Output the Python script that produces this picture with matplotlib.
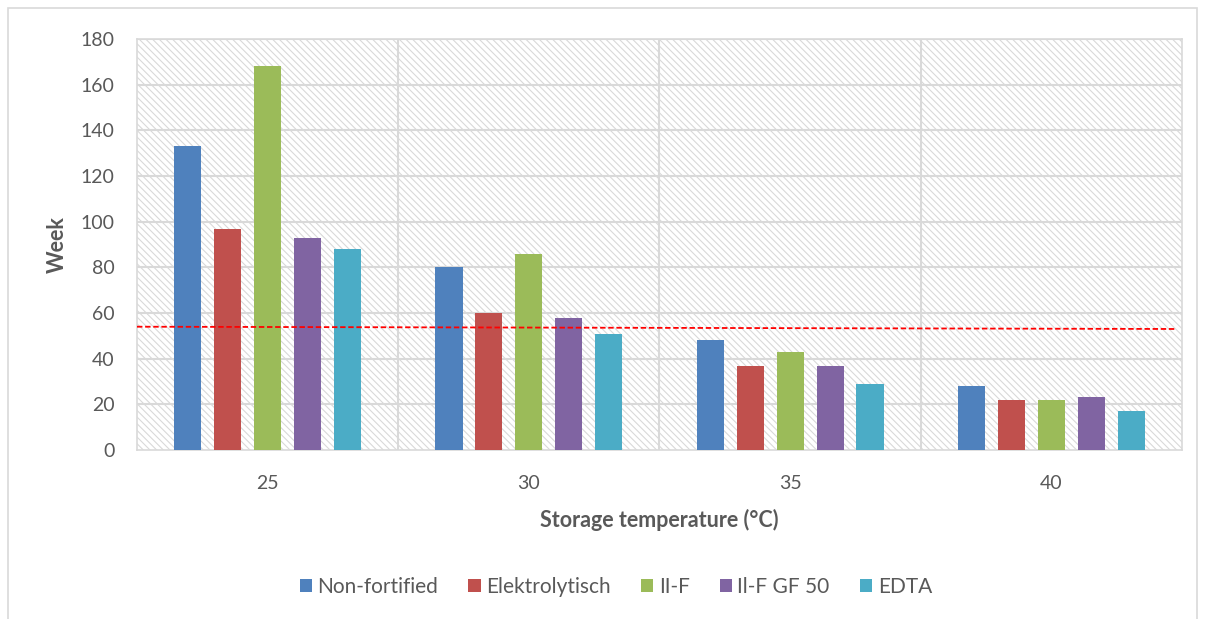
import numpy as np
import matplotlib.pyplot as plt
from matplotlib.patches import Rectangle, Patch

plt.rcParams['font.family'] = ['Lato', 'DejaVu Sans']
plt.rcParams['hatch.color'] = '#D9D9D9'
plt.rcParams['hatch.linewidth'] = 0.8

categories = ["25", "30", "35", "40"]
series = ["Non-fortified", "Elektrolytisch", "II-F", "Il-F GF 50", "EDTA"]
values = [
    [133, 80, 48, 28],
    [97, 60, 37, 22],
    [168, 86, 43, 22],
    [93, 58, 37, 23],
    [88, 51, 29, 17],
]
colors = ["#4F81BD", "#C0504D", "#9BBB59", "#8064A2", "#4BACC6"]
ref_line = [54, 53]

fig = plt.figure(figsize=(12.05, 6.19), dpi=100)
ax = fig.add_axes([0.1137, 0.273, 0.8672, 0.664])

# hatched plot background
ax.add_patch(Rectangle((0, 0), 1, 1, transform=ax.transAxes, facecolor='white',
                       hatch='\\\\\\\\\\', edgecolor='#D9D9D9', linewidth=0, zorder=0))

x = np.arange(len(categories))
step = 0.153
width = 0.104
for i, (s, v, c) in enumerate(zip(series, values, colors)):
    ax.bar(x + (i - 2) * step, v, width, color=c, label=s, zorder=3)

ax.set_xlim(-0.5, len(categories) - 0.5)
ax.set_ylim(0, 180)
ax.set_yticks(range(0, 181, 20))
ax.set_xticks(x)
ax.set_xticklabels(categories)

for yv in range(20, 181, 20):
    ax.axhline(yv, color='#D9D9D9', lw=1.5, zorder=1)
for xv in x[:-1] + 0.5:
    ax.axvline(xv, color='#D9D9D9', lw=1.5, zorder=1)

ax.plot([-0.5, 3.48], ref_line, color='#FF0000', lw=1.3, ls=(0, (3, 1.5)), zorder=4)

for sp in ax.spines.values():
    sp.set_color('#D9D9D9')
    sp.set_linewidth(1.2)
ax.tick_params(length=0, labelsize=14, colors='#595959')
ax.tick_params(axis='y', pad=16)
ax.tick_params(axis='x', pad=18)

ax.set_ylabel("Week", fontsize=15.5, fontweight='bold', color='#595959', labelpad=9)
ax.set_xlabel("Storage temperature (°C)", fontsize=15.5, fontweight='bold', color='#595959', labelpad=12)

handles = [Patch(facecolor=c, label=s) for s, c in zip(series, colors)]
leg = fig.legend(handles=handles, loc='center', bbox_to_anchor=(0.511, 0.052), ncol=5,
                 frameon=False, fontsize=15, handlelength=0.6, handleheight=0.6,
                 handletextpad=0.25, columnspacing=1.45)
for t in leg.get_texts():
    t.set_color('#595959')

fig.patches.append(Rectangle((8 / 1205, -0.01), 1189 / 1205, 1 - 8 / 619 + 0.01,
                             transform=fig.transFigure, fill=False,
                             edgecolor='#D9D9D9', lw=1.2))

fig.savefig("out.png", dpi=100)
